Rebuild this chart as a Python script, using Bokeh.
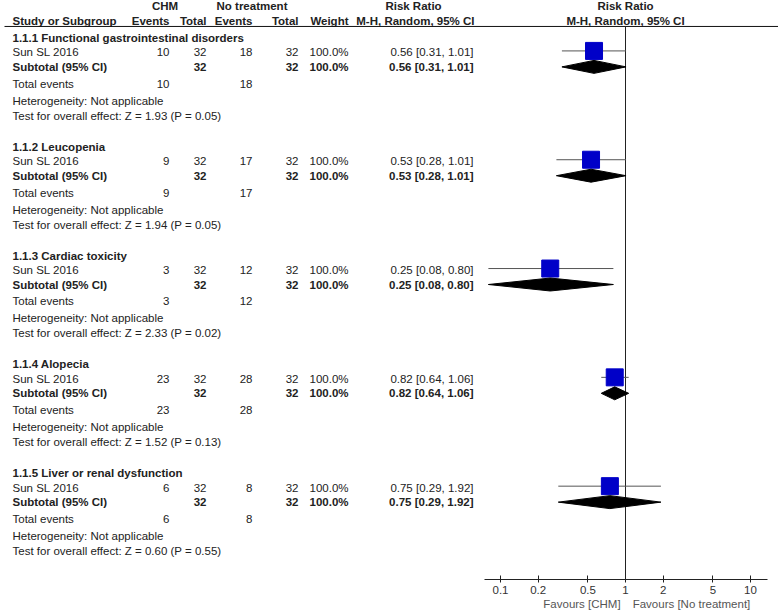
import numpy as np
from bokeh.plotting import figure
from bokeh.models import (Range1d, LogScale, LogAxis, FixedTicker, ColumnDataSource,
                          BasicTickFormatter, CustomJSTickFormatter)
from bokeh.core.properties import value
from bokeh.embed import file_html
from bokeh.resources import INLINE

# ---------------- data ----------------
groups = ["1.1.1 Functional gastrointestinal disorders", "1.1.2 Leucopenia",
          "1.1.3 Cardiac toxicity", "1.1.4 Alopecia", "1.1.5 Liver or renal dysfunction"]
study = ["Sun SL 2016", "Sun SL 2016", "Sun SL 2016", "Sun SL 2016", "Sun SL 2016"]
chm_events = [10, 9, 3, 23, 6]
chm_total = [32, 32, 32, 32, 32]
nt_events = [18, 17, 12, 28, 8]
nt_total = [32, 32, 32, 32, 32]
weight = [100.0, 100.0, 100.0, 100.0, 100.0]
rr = [0.56, 0.53, 0.25, 0.82, 0.75]
lo = [0.31, 0.28, 0.08, 0.64, 0.29]
hi = [1.01, 1.01, 0.80, 1.06, 1.92]
z_vals = [1.93, 1.94, 2.33, 1.52, 0.60]
p_vals = [0.05, 0.05, 0.02, 0.13, 0.55]
ticks = [0.1, 0.2, 0.5, 1, 2, 5, 10]
favour_labels = ["Favours [CHM]", "Favours [No treatment]"]

# ---------------- layout ----------------
FONT = "Liberation Sans"
FS = "11.5px"
TXT = "#222222"
W, H = 778, 612
AXIS_Y = 580
ONE_PX, DEC_PX = 625, 125  # pixel of RR=1, pixels per decade


def px_to_rr(px):
    return 10 ** ((px - ONE_PX) / DEC_PX)


p = figure(width=W, height=H, output_backend="svg", toolbar_location=None,
           x_range=Range1d(0, W), y_range=Range1d(AXIS_Y, 0),
           x_axis_location=None, y_axis_location=None,
           min_border_left=0, min_border_right=0, min_border_top=0,
           min_border_bottom=H - AXIS_Y)
p.outline_line_color = None
p.xgrid.visible = False
p.ygrid.visible = False
p.extra_x_ranges = {"rr": Range1d(px_to_rr(0), px_to_rr(W))}
p.extra_x_scales = {"rr": LogScale()}

G0, GSTEP = 37.5, 109
OFF_STUDY, OFF_SUB, OFF_TOT, OFF_HET, OFF_TEST = 14.5, 29, 46, 63, 78

COL_STUDY = 12
COL_CE, COL_CT, COL_NE, COL_NT, COL_W, COL_RR = 169, 206, 252, 298, 348, 473

rows = {"x": [], "y": [], "t": [], "align": [], "bold": []}


def add(x, y, t, align="left", bold=False):
    rows["x"].append(x)
    rows["y"].append(y)
    rows["t"].append(t)
    rows["align"].append(align)
    rows["bold"].append(bold)


# header
add(164.5, 6, "CHM", "center", True)
add(251.5, 6, "No treatment", "center", True)
add(413, 6, "Risk Ratio", "center", True)
add(625, 6, "Risk Ratio", "center", True)
add(COL_STUDY, 21, "Study or Subgroup", "left", True)
add(COL_CE, 21, "Events", "right", True)
add(COL_CT, 21, "Total", "right", True)
add(COL_NE, 21, "Events", "right", True)
add(COL_NT, 21, "Total", "right", True)
add(COL_W, 21, "Weight", "right", True)
add(474, 21, "M-H, Random, 95% CI", "right", True)
add(625, 21, "M-H, Random, 95% CI", "center", True)

study_y, sub_y = [], []
for g in range(len(groups)):
    y0 = G0 + GSTEP * g
    ys, ysub = y0 + OFF_STUDY, y0 + OFF_SUB
    study_y.append(ys)
    sub_y.append(ysub)
    ci = f"{rr[g]:.2f} [{lo[g]:.2f}, {hi[g]:.2f}]"
    add(COL_STUDY, y0, groups[g], "left", True)
    add(COL_STUDY, ys, study[g])
    add(COL_CE, ys, str(chm_events[g]), "right")
    add(COL_CT, ys, str(chm_total[g]), "right")
    add(COL_NE, ys, str(nt_events[g]), "right")
    add(COL_NT, ys, str(nt_total[g]), "right")
    add(COL_W, ys, f"{weight[g]:.1f}%", "right")
    add(COL_RR, ys, ci, "right")
    add(COL_STUDY, ysub, "Subtotal (95% CI)", "left", True)
    add(COL_CT, ysub, str(chm_total[g]), "right", True)
    add(COL_NT, ysub, str(nt_total[g]), "right", True)
    add(COL_W, ysub, f"{weight[g]:.1f}%", "right", True)
    add(COL_RR, ysub, ci, "right", True)
    add(COL_STUDY, y0 + OFF_TOT, "Total events")
    add(COL_CE, y0 + OFF_TOT, str(chm_events[g]), "right")
    add(COL_NE, y0 + OFF_TOT, str(nt_events[g]), "right")
    add(COL_STUDY, y0 + OFF_HET, "Heterogeneity: Not applicable")
    add(COL_STUDY, y0 + OFF_TEST, f"Test for overall effect: Z = {z_vals[g]:.2f} (P = {p_vals[g]:.2f})")

for bold in (False, True):
    for align in ("left", "right", "center"):
        idx = [i for i in range(len(rows["t"])) if rows["bold"][i] == bold and rows["align"][i] == align]
        if not idx:
            continue
        src = ColumnDataSource(dict(x=[rows["x"][i] for i in idx], y=[rows["y"][i] for i in idx],
                                    t=[rows["t"][i] for i in idx]))
        p.text(x="x", y="y", text="t", source=src, text_font=value(FONT), text_font_size=value(FS),
               text_align=align, text_baseline="middle", text_color=TXT,
               text_font_style="bold" if bold else "normal")

# header rule
p.segment(x0=[4], x1=[W], y0=[26], y1=[26], line_color="#111111", line_width=1)

# line of no effect
p.segment(x0=[1], x1=[1], y0=[26], y1=[AXIS_Y], line_color="#222222", line_width=1, x_range_name="rr")

# CI lines and squares
p.segment(x0=lo, x1=hi, y0=[y - 1.5 for y in study_y], y1=[y - 1.5 for y in study_y],
          line_color="#555555", line_width=1, x_range_name="rr")
p.scatter(x=rr, y=[y - 1.5 for y in study_y], marker="square", size=17,
          fill_color="#0000C8", line_color="#0000C8", x_range_name="rr")

# diamonds
dxs = [[lo[g], rr[g], hi[g], rr[g]] for g in range(len(groups))]
dys = [[y, y - 6.5, y, y + 6.5] for y in sub_y]
p.patches(xs=dxs, ys=dys, fill_color="black", line_color="black", line_width=1, x_range_name="rr")

# axis
ax = LogAxis(x_range_name="rr", ticker=FixedTicker(ticks=ticks, minor_ticks=[]),
             formatter=BasicTickFormatter(), bounds=(px_to_rr(484), px_to_rr(767)))
ax.major_tick_in = 4
ax.major_tick_out = 3
ax.minor_tick_line_color = None
ax.axis_line_color = "#222222"
ax.major_tick_line_color = "#222222"
ax.major_label_text_font = FONT
ax.major_label_text_font_size = FS
ax.major_label_text_color = "#333333"
ax.major_label_standoff = 3
p.add_layout(ax, "below")

# "Favours" labels, drawn as a second (line-less) axis under the first
fav = LogAxis(x_range_name="rr",
              ticker=FixedTicker(ticks=[px_to_rr(581.5), px_to_rr(691)], minor_ticks=[]),
              formatter=CustomJSTickFormatter(args=dict(labels=favour_labels), code="return labels[index]"))
fav.axis_line_color = None
fav.major_tick_line_color = None
fav.minor_tick_line_color = None
fav.major_tick_in = 0
fav.major_tick_out = 0
fav.major_label_standoff = 1
fav.major_label_text_font = FONT
fav.major_label_text_font_size = FS
fav.major_label_text_color = "#555555"
p.add_layout(fav, "below")

open("out.html", "w").write(file_html(p, INLINE))
